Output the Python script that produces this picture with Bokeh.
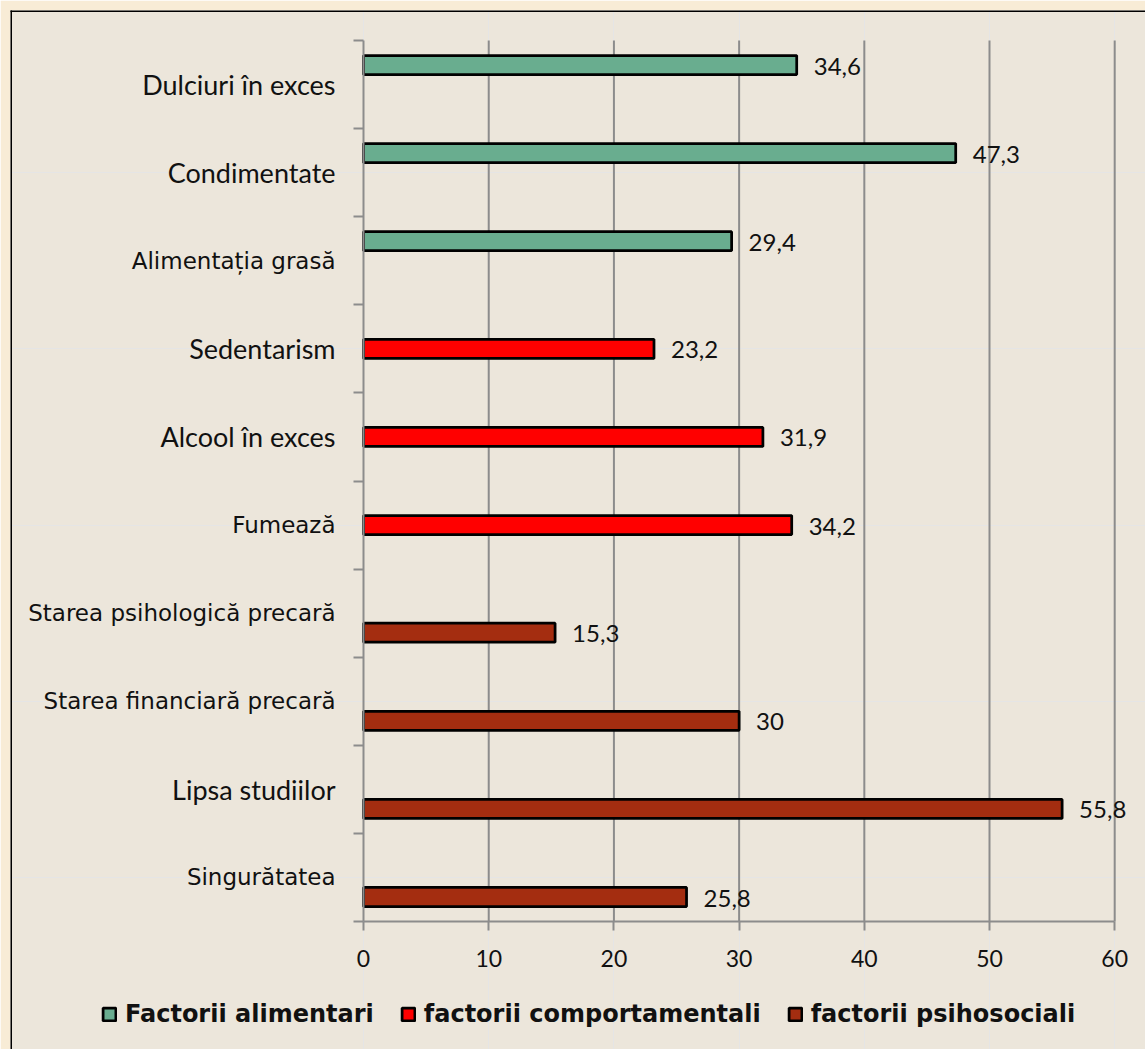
from bokeh.plotting import figure
from bokeh.models import ColumnDataSource, Range1d, LinearAxis, FixedTicker, Span
from bokeh.transform import dodge
from bokeh.core.properties import value
from bokeh.embed import file_html
from bokeh.resources import INLINE

# ---- data (top to bottom as in the chart) ----
categories = ["Dulciuri în exces", "Condimentate", "Alimentația grasă",
              "Sedentarism", "Alcool în exces", "Fumează",
              "Starea psihologică precară", "Starea financiară precară",
              "Lipsa studiilor", "Singurătatea"]
values = [34.6, 47.3, 29.4, 23.2, 31.9, 34.2, 15.3, 30, 55.8, 25.8]
groups = ["Factorii alimentari"] * 3 + ["factorii comportamentali"] * 3 + ["factorii psihosociali"] * 4
series = ["Factorii alimentari", "factorii comportamentali", "factorii psihosociali"]
label_style = ["light", "light", "plain", "light", "light", "plain",
               "plain", "plain", "light", "plain"]
x_ticks = [0, 10, 20, 30, 40, 50, 60]

# ---- styles ----
colors = {"Factorii alimentari": "#69AD8F",
          "factorii comportamentali": "#FF0000",
          "factorii psihosociali": "#A42D10"}
offsets = {"Factorii alimentari": 0.222,
           "factorii comportamentali": 0.0,
           "factorii psihosociali": -0.222}
GRAY = "#8C8C8C"
TXT = "#111111"
LIGHT_FONT = "Lato"
PLAIN_FONT = "DejaVu Sans"

n = len(categories)
ypos = [n - 1 - k for k in range(n)]          # band centres (integers), bottom = 0
bounds_y = (-0.5, n - 0.5)

def fmt(v):
    return ("%g" % v).replace(".", ",")

X0, X1 = -28.2, 62.46
Y0, Y1 = -1.953, 9.841

p = figure(width=1145, height=1049,
           x_range=Range1d(X0, X1), y_range=Range1d(Y0, Y1),
           output_backend="svg", toolbar_location=None,
           x_axis_location=None, y_axis_location=None,
           min_border_left=10, min_border_top=10,
           min_border_right=0, min_border_bottom=0)
p.background_fill_color = "#ECE6DB"
p.border_fill_color = "#F8ECD6"
p.outline_line_color = None

# frame border only on left and top (the panel continues past the picture)
p.add_layout(Span(location=X0, dimension="height", line_color="black",
                  line_width=3, line_cap="square"))
p.add_layout(Span(location=Y1, dimension="width", line_color="black",
                  line_width=3, line_cap="square"))

# vertical gridlines from tick values
gx = [t for t in x_ticks if t > 0]
p.segment(x0=gx, y0=[bounds_y[0]] * len(gx), x1=gx, y1=[bounds_y[1]] * len(gx),
          line_color=GRAY, line_width=2)

# bars per series
for s in series:
    idx = [i for i in range(n) if groups[i] == s]
    src = ColumnDataSource(dict(y=[ypos[i] for i in idx],
                                v=[values[i] for i in idx],
                                lab=[fmt(values[i]) for i in idx]))
    p.hbar(y=dodge("y", offsets[s]), left=0, right="v", height=0.216, source=src,
           fill_color=colors[s], line_color="black", line_width=2.75,
           legend_label=s)
    p.text(x="v", y=dodge("y", offsets[s]), text="lab", source=src,
           x_offset=17, y_offset=1, text_align="left", text_baseline="middle",
           text_font=value(LIGHT_FONT), text_font_size="24px", text_color=TXT)

# x axis
xaxis = LinearAxis(fixed_location=bounds_y[0], bounds=(0, 60),
                   ticker=FixedTicker(ticks=x_ticks, minor_ticks=[]))
xaxis.axis_line_color = GRAY
xaxis.axis_line_width = 2
xaxis.major_tick_line_color = GRAY
xaxis.major_tick_line_width = 2
xaxis.major_tick_in = 0
xaxis.major_tick_out = 9
xaxis.minor_tick_line_color = None
xaxis.major_label_standoff = 20
xaxis.major_label_text_font = LIGHT_FONT
xaxis.major_label_text_font_size = "23px"
xaxis.major_label_text_color = TXT
p.add_layout(xaxis, "below")

# y axes: one per label typeface, both sitting on x = 0
boundaries = [b - 0.5 for b in range(n + 1)]
for style, font, size, standoff in (("light", LIGHT_FONT, "27px", 18),
                                    ("plain", PLAIN_FONT, "23px", 28)):
    idx = [i for i in range(n) if label_style[i] == style]
    ticks = [ypos[i] for i in idx]
    ax = LinearAxis(fixed_location=0, bounds=bounds_y,
                    ticker=FixedTicker(ticks=ticks,
                                       minor_ticks=boundaries if style == "light" else []))
    ax.major_label_overrides = {ypos[i]: categories[i] for i in idx}
    ax.axis_line_color = GRAY if style == "light" else None
    ax.axis_line_width = 2
    ax.major_tick_line_color = None
    ax.major_tick_in = 0
    ax.major_tick_out = 0
    ax.minor_tick_line_color = GRAY
    ax.minor_tick_line_width = 2
    ax.minor_tick_in = 0
    ax.minor_tick_out = 10
    ax.major_label_standoff = standoff
    ax.major_label_text_font = font
    ax.major_label_text_font_size = size
    ax.major_label_text_color = TXT
    p.add_layout(ax, "left")

# legend
lg = p.legend[0]
lg.orientation = "horizontal"
lg.location = (91, 21)
lg.glyph_width = 16
lg.glyph_height = 16
lg.label_standoff = 8
lg.spacing = 26
lg.padding = 0
lg.margin = 0
lg.border_line_alpha = 0
lg.background_fill_alpha = 0
lg.label_text_font = PLAIN_FONT
lg.label_text_font_style = "bold"
lg.label_text_font_size = "24px"
lg.label_text_color = TXT

open("out.html", "w").write(file_html(p, INLINE))
